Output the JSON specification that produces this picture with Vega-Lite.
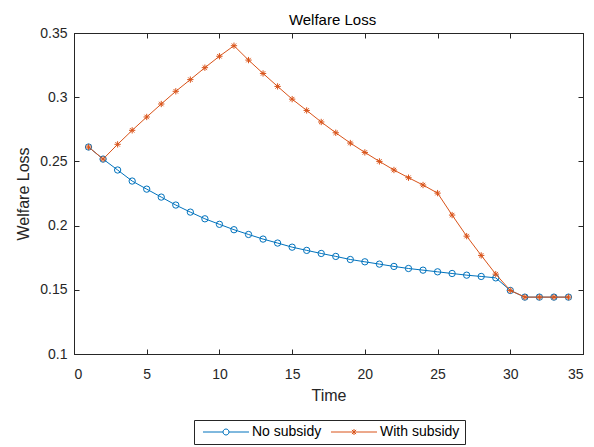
{
  "$schema": "https://vega.github.io/schema/vega-lite/v6.json",
  "width": 509,
  "height": 321,
  "autosize": {"type": "none"},
  "padding": {"left": 74, "top": 33, "right": 11, "bottom": 93},
  "title": {"text": "Welfare Loss", "fontSize": 15, "fontWeight": "normal", "color": "#000000", "offset": -2, "dx": 4, "font": "Liberation Sans"},
  "config": {
    "font": "Liberation Sans",
    "view": {"stroke": "#262626", "strokeWidth": 1},
    "axis": {"grid": false, "domainColor": "#262626", "tickColor": "#262626", "labelColor": "#262626", "titleColor": "#262626", "labelFontSize": 14, "titleFontSize": 16, "titleFontWeight": "normal", "tickSize": -5, "labelFont": "Liberation Sans", "titleFont": "Liberation Sans"},
    "legend": {"title": null, "orient": "none", "legendX": 120, "legendY": 387, "direction": "horizontal",
      "strokeColor": "#262626", "fillColor": "#ffffff", "padding": 5, "labelFontSize": 14, "labelColor": "#000000", "labelFont": "Liberation Sans",
      "symbolSize": 36, "symbolOffset": 20, "symbolStrokeWidth": 1, "symbolOpacity": 1, "labelOffset": 19, "columnPadding": 5}
  },
  "data": {"values": [
    {"t": 1, "series": "No subsidy", "loss": 0.2612},
    {"t": 2, "series": "No subsidy", "loss": 0.2518},
    {"t": 3, "series": "No subsidy", "loss": 0.2433},
    {"t": 4, "series": "No subsidy", "loss": 0.2347},
    {"t": 5, "series": "No subsidy", "loss": 0.2284},
    {"t": 6, "series": "No subsidy", "loss": 0.2222},
    {"t": 7, "series": "No subsidy", "loss": 0.2160},
    {"t": 8, "series": "No subsidy", "loss": 0.2105},
    {"t": 9, "series": "No subsidy", "loss": 0.2053},
    {"t": 10, "series": "No subsidy", "loss": 0.2010},
    {"t": 11, "series": "No subsidy", "loss": 0.1968},
    {"t": 12, "series": "No subsidy", "loss": 0.1931},
    {"t": 13, "series": "No subsidy", "loss": 0.1895},
    {"t": 14, "series": "No subsidy", "loss": 0.1864},
    {"t": 15, "series": "No subsidy", "loss": 0.1832},
    {"t": 16, "series": "No subsidy", "loss": 0.1807},
    {"t": 17, "series": "No subsidy", "loss": 0.1783},
    {"t": 18, "series": "No subsidy", "loss": 0.1760},
    {"t": 19, "series": "No subsidy", "loss": 0.1736},
    {"t": 20, "series": "No subsidy", "loss": 0.1718},
    {"t": 21, "series": "No subsidy", "loss": 0.1700},
    {"t": 22, "series": "No subsidy", "loss": 0.1682},
    {"t": 23, "series": "No subsidy", "loss": 0.1666},
    {"t": 24, "series": "No subsidy", "loss": 0.1653},
    {"t": 25, "series": "No subsidy", "loss": 0.1640},
    {"t": 26, "series": "No subsidy", "loss": 0.1627},
    {"t": 27, "series": "No subsidy", "loss": 0.1614},
    {"t": 28, "series": "No subsidy", "loss": 0.1604},
    {"t": 29, "series": "No subsidy", "loss": 0.1593},
    {"t": 30, "series": "No subsidy", "loss": 0.1495},
    {"t": 31, "series": "No subsidy", "loss": 0.1443},
    {"t": 32, "series": "No subsidy", "loss": 0.1443},
    {"t": 33, "series": "No subsidy", "loss": 0.1443},
    {"t": 34, "series": "No subsidy", "loss": 0.1443},
    {"t": 1, "series": "With subsidy", "loss": 0.2612},
    {"t": 2, "series": "With subsidy", "loss": 0.2518},
    {"t": 3, "series": "With subsidy", "loss": 0.2633},
    {"t": 4, "series": "With subsidy", "loss": 0.2742},
    {"t": 5, "series": "With subsidy", "loss": 0.2846},
    {"t": 6, "series": "With subsidy", "loss": 0.2947},
    {"t": 7, "series": "With subsidy", "loss": 0.3046},
    {"t": 8, "series": "With subsidy", "loss": 0.3137},
    {"t": 9, "series": "With subsidy", "loss": 0.3230},
    {"t": 10, "series": "With subsidy", "loss": 0.3319},
    {"t": 11, "series": "With subsidy", "loss": 0.3401},
    {"t": 12, "series": "With subsidy", "loss": 0.3289},
    {"t": 13, "series": "With subsidy", "loss": 0.3185},
    {"t": 14, "series": "With subsidy", "loss": 0.3084},
    {"t": 15, "series": "With subsidy", "loss": 0.2985},
    {"t": 16, "series": "With subsidy", "loss": 0.2897},
    {"t": 17, "series": "With subsidy", "loss": 0.2807},
    {"t": 18, "series": "With subsidy", "loss": 0.2723},
    {"t": 19, "series": "With subsidy", "loss": 0.2643},
    {"t": 20, "series": "With subsidy", "loss": 0.2570},
    {"t": 21, "series": "With subsidy", "loss": 0.2500},
    {"t": 22, "series": "With subsidy", "loss": 0.2433},
    {"t": 23, "series": "With subsidy", "loss": 0.2373},
    {"t": 24, "series": "With subsidy", "loss": 0.2316},
    {"t": 25, "series": "With subsidy", "loss": 0.2253},
    {"t": 26, "series": "With subsidy", "loss": 0.2082},
    {"t": 27, "series": "With subsidy", "loss": 0.1918},
    {"t": 28, "series": "With subsidy", "loss": 0.1768},
    {"t": 29, "series": "With subsidy", "loss": 0.1622},
    {"t": 30, "series": "With subsidy", "loss": 0.1495},
    {"t": 31, "series": "With subsidy", "loss": 0.1443},
    {"t": 32, "series": "With subsidy", "loss": 0.1443},
    {"t": 33, "series": "With subsidy", "loss": 0.1443},
    {"t": 34, "series": "With subsidy", "loss": 0.1443}
  ]},
  "resolve": {"axis": {"x": "independent", "y": "independent"}},
  "layer": [
    {
      "transform": [{"filter": "datum.series === 'No subsidy'"}],
      "mark": {"type": "line", "strokeWidth": 1, "color": "#0072BD"},
      "encoding": {
        "x": {"field": "t", "type": "quantitative", "scale": {"domain": [0, 35], "nice": false, "zero": false, "padding": 0},
              "axis": {"title": "Time", "values": [0, 5, 10, 15, 20, 25, 30, 35], "labelPadding": 18, "titleBaseline": "alphabetic", "titleX": 254.5, "titleY": 46}},
        "y": {"field": "loss", "type": "quantitative", "scale": {"domain": [0.1, 0.35], "nice": false, "zero": false, "padding": 0},
              "axis": {"title": "Welfare Loss", "values": [0.1, 0.15, 0.2, 0.25, 0.3, 0.35], "format": "~g", "labelPadding": 12, "titleBaseline": "alphabetic", "titleX": -46, "titleY": 160.5}}
      }
    },
    {
      "transform": [{"filter": "datum.series === 'No subsidy'"}],
      "mark": {"type": "point", "filled": false, "strokeWidth": 1, "opacity": 1, "shape": "circle", "size": 40, "color": "#0072BD"},
      "encoding": {
        "x": {"field": "t", "type": "quantitative", "axis": null},
        "y": {"field": "loss", "type": "quantitative", "axis": null}
      }
    },
    {
      "transform": [{"filter": "datum.series === 'With subsidy'"}],
      "mark": {"type": "line", "strokeWidth": 1, "color": "#D95319"},
      "encoding": {
        "x": {"field": "t", "type": "quantitative", "axis": null},
        "y": {"field": "loss", "type": "quantitative", "axis": null}
      }
    },
    {
      "transform": [{"filter": "datum.series === 'With subsidy'"}],
      "mark": {"type": "point", "filled": false, "strokeWidth": 1, "opacity": 1, "shape": "M-1,0H1M0,-1V1M-0.7,-0.7L0.7,0.7M-0.7,0.7L0.7,-0.7", "size": 40, "color": "#D95319"},
      "encoding": {
        "x": {"field": "t", "type": "quantitative", "axis": null},
        "y": {"field": "loss", "type": "quantitative", "axis": null}
      }
    },
    {
      "mark": {"type": "point", "filled": false, "opacity": 0},
      "encoding": {
        "x": {"field": "t", "type": "quantitative", "axis": {"orient": "top", "labels": false, "title": null, "values": [0, 5, 10, 15, 20, 25, 30, 35]}},
        "y": {"field": "loss", "type": "quantitative", "axis": {"orient": "right", "labels": false, "title": null, "values": [0.1, 0.15, 0.2, 0.25, 0.3, 0.35]}},
        "color": {"field": "series", "type": "nominal", "scale": {"domain": ["No subsidy", "With subsidy"], "range": ["#0072BD", "#D95319"]}},
        "shape": {"field": "series", "type": "nominal",
          "scale": {"domain": ["No subsidy", "With subsidy"], "range": ["M-7.67,0H-1M1,0H7.67M-1,0A1,1,0,1,0,1,0A1,1,0,1,0,-1,0", "M-7.67,0H7.67M0,-1V1M-0.7,-0.7L0.7,0.7M-0.7,0.7L0.7,-0.7"]}}
      }
    }
  ]
}
